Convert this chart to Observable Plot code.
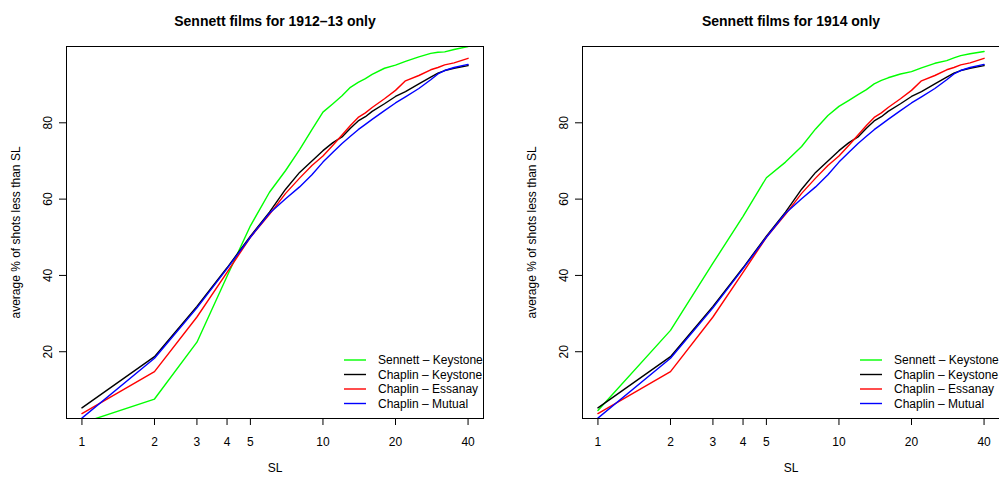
<!DOCTYPE html>
<html><head><meta charset="utf-8">
<script src="https://cdn.jsdelivr.net/npm/d3@7"></script>
<script src="https://cdn.jsdelivr.net/npm/@observablehq/plot@0.6"></script>
<style>
body{margin:0;background:#fff;}
#wrap{display:flex;width:999px;height:480px;overflow:hidden;}
#wrap svg{flex:none;}
</style>
</head><body><div id="wrap"></div>
<script>
const SL = [1,2,3,4,5,6,7,8,9,10,11,12,13,14,15,16,18,20,22,25,28,30,32,35,40];
const sennett1912 = [1.3,7.6,22.5,39.8,53.0,61.8,67.5,73.0,78.2,82.8,85.0,87.1,89.3,90.6,91.6,92.7,94.3,95.1,96.1,97.3,98.2,98.5,98.6,99.2,100.0];
const sennett1914 = [4.6,25.6,43.2,55.5,65.6,69.7,73.8,78.4,81.9,84.3,85.9,87.4,88.7,90.2,91.1,91.8,92.8,93.4,94.4,95.6,96.3,97.0,97.6,98.1,98.7];
const chaplinKeystone = [5.3,18.7,31.9,42.0,50.3,56.6,62.6,67.0,70.0,72.7,74.8,76.3,78.6,80.5,81.6,83.0,85.0,86.9,88.2,90.2,92.0,93.0,93.7,94.3,95.0];
const chaplinEssanay = [3.8,14.8,29.1,40.8,50.0,56.0,61.5,65.5,68.8,71.3,74.1,76.8,79.3,81.4,82.6,84.0,86.3,88.5,91.0,92.4,93.9,94.5,95.2,95.7,96.9];
const chaplinMutual = [2.6,18.3,31.5,41.8,50.0,56.3,60.1,63.2,66.4,69.7,72.3,74.6,76.5,78.2,79.6,80.9,83.2,85.2,86.8,89.0,91.3,92.8,93.7,94.5,95.3];

const panelTitles = ["Sennett films for 1912\u201313 only", "Sennett films for 1914 only"];
const seriesLabels = ["Sennett \u2013 Keystone", "Chaplin \u2013 Keystone", "Chaplin \u2013 Essanay", "Chaplin \u2013 Mutual"];
const seriesColors = ["#00ff00", "#000000", "#ff0000", "#0000ff"];
const xTicks = [1,2,3,4,5,10,20,40];
const yTicks = [20,40,60,80];
const xLabel = "SL";
const yLabel = "average % of shots less than SL";

// R-style 4% expansion of the log x range [1, 40]
const lx = Math.log10(40);
const xDomain = [Math.pow(10, -0.04 * lx), Math.pow(10, 1.04 * lx)];
const yDomain = [2.5, 100];

const font = "Liberation Sans, Arial, Helvetica, sans-serif";

function legendMark(index, scales, values, dimensions) {
  const {width, height, marginRight, marginBottom} = dimensions;
  const right = width - marginRight, bottom = height - marginBottom;
  const g = d3.create("svg:g").attr("font-size", 12).attr("font-family", font).attr("text-anchor", "start");
  seriesLabels.forEach((lab, k) => {
    const y = bottom - 58 + 14.5 * k;
    g.append("line").attr("x1", right - 139).attr("x2", right - 117)
      .attr("y1", y).attr("y2", y).attr("stroke", seriesColors[k]).attr("stroke-width", 1.4);
    g.append("text").attr("x", right - 105).attr("y", y).attr("dy", "0.35em")
      .attr("text-anchor", "start").attr("fill", "black").text(lab);
  });
  return g.node();
}

function panel(title, sennett) {
  const series = [sennett, chaplinKeystone, chaplinEssanay, chaplinMutual];
  const lines = series.map((vals, k) =>
    Plot.line(SL.map((s, i) => ({SL: s, pct: vals[i]})),
      {x: "SL", y: "pct", stroke: seriesColors[k], strokeWidth: 1.4, clip: true}));
  return Plot.plot({
    width: 516, height: 480,
    marginLeft: 66, marginRight: 33, marginTop: 46, marginBottom: 62,
    style: {fontFamily: font, fontSize: "12px", background: "white", overflow: "visible", color: "black"},
    x: {type: "log", domain: xDomain, ticks: xTicks, tickFormat: d => String(d), tickSize: 7, tickPadding: 12, label: null},
    y: {domain: yDomain, ticks: yTicks, tickFormat: () => "", tickSize: 7, label: null},
    marks: [
      ...lines,
      Plot.frame({stroke: "black"}),
      Plot.text(yTicks, {y: d => d, text: d => String(d), frameAnchor: "left", textAnchor: "middle", dx: -18, rotate: -90, fill: "black"}),
      Plot.text([title], {text: d => d, frameAnchor: "top", textAnchor: "middle", dy: -30, fontWeight: "bold", fontSize: 14, fill: "black"}),
      Plot.text([xLabel], {text: d => d, frameAnchor: "bottom", textAnchor: "middle", dy: 53, fill: "black"}),
      Plot.text([yLabel], {text: d => d, frameAnchor: "left", textAnchor: "middle", dx: -50, rotate: -90, fill: "black"}),
      legendMark
    ]
  });
}

const wrap = document.getElementById("wrap");
wrap.appendChild(panel(panelTitles[0], sennett1912));
wrap.appendChild(panel(panelTitles[1], sennett1914));
</script>
</body></html>
